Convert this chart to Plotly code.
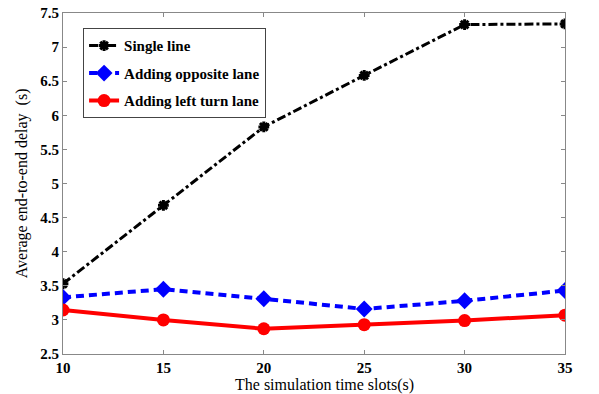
import plotly.graph_objects as go

time_slots = [10, 15, 20, 25, 30, 35]
single_line = [3.53, 4.68, 5.83, 6.585, 7.33, 7.34]
opposite_lane = [3.33, 3.45, 3.31, 3.16, 3.28, 3.43]
left_turn_lane = [3.145, 3.0, 2.87, 2.93, 2.99, 3.07]
x_ticks = [10, 15, 20, 25, 30, 35]
y_ticks = [2.5, 3, 3.5, 4, 4.5, 5, 5.5, 6, 6.5, 7, 7.5]

font_family = "Times New Roman, Liberation Serif, serif"

fig = go.Figure()
fig.add_trace(go.Scatter(
    x=time_slots, y=single_line, name="<b>Single line</b>", mode="lines+markers",
    legendgroup="a",
    line=dict(color="black", width=3, dash="dashdot"),
    marker=dict(symbol="asterisk-open", size=9, color="black",
                line=dict(color="black", width=3)),
))
fig.add_trace(go.Scatter(
    x=time_slots, y=opposite_lane, name="<b>Adding opposite lane</b>", mode="lines+markers",
    legendgroup="b",
    line=dict(color="#0000ff", width=4, dash="8px,5px"),
    marker=dict(symbol="diamond", size=13, color="#0000ff"),
))
fig.add_trace(go.Scatter(
    x=time_slots, y=left_turn_lane, name="<b>Adding left turn lane</b>", mode="lines+markers",
    legendgroup="c",
    line=dict(color="#ff0000", width=4),
    marker=dict(symbol="circle", size=13, color="#ff0000"),
))

axis_common = dict(
    showline=True, linecolor="#888888", linewidth=1, mirror="ticks",
    ticks="inside", ticklen=4, tickcolor="#888888", showgrid=False, zeroline=False,
    automargin=False,
    tickfont=dict(family=font_family, size=15, color="black"),
)

fig.update_layout(
    width=599, height=394,
    margin=dict(l=63, r=34, t=13, b=40),
    paper_bgcolor="white", plot_bgcolor="white",
    font=dict(family=font_family, color="black"),
    xaxis=dict(range=[10, 35], tickvals=x_ticks,
               ticktext=[f"<b>{v}</b>" for v in x_ticks],
               **axis_common),
    yaxis=dict(range=[2.5, 7.5], tickvals=y_ticks,
               ticktext=[f"<b>{v:g}</b>" for v in y_ticks],
               **axis_common),
    legend=dict(x=0.04, y=0.955, xanchor="left", yanchor="top",
                bgcolor="white", bordercolor="#444444", borderwidth=1,
                font=dict(family=font_family, size=15, color="black"),
                tracegroupgap=5, itemwidth=30),
    showlegend=True,
    annotations=[
        dict(text="The simulation time slots(s)", xref="paper", yref="paper",
             x=0.52, y=-0.091, xanchor="center", yanchor="middle", showarrow=False,
             font=dict(family=font_family, size=16, color="black")),
        dict(text="Average end-to-end delay  (s)", xref="paper", yref="paper",
             x=-0.082, y=0.5, xanchor="center", yanchor="middle", showarrow=False,
             textangle=-90, font=dict(family=font_family, size=16, color="black")),
    ],
)

fig.write_html("out.html", config={"displayModeBar": False},
               post_script="document.body.style.margin='0';document.body.style.overflow='hidden';")
